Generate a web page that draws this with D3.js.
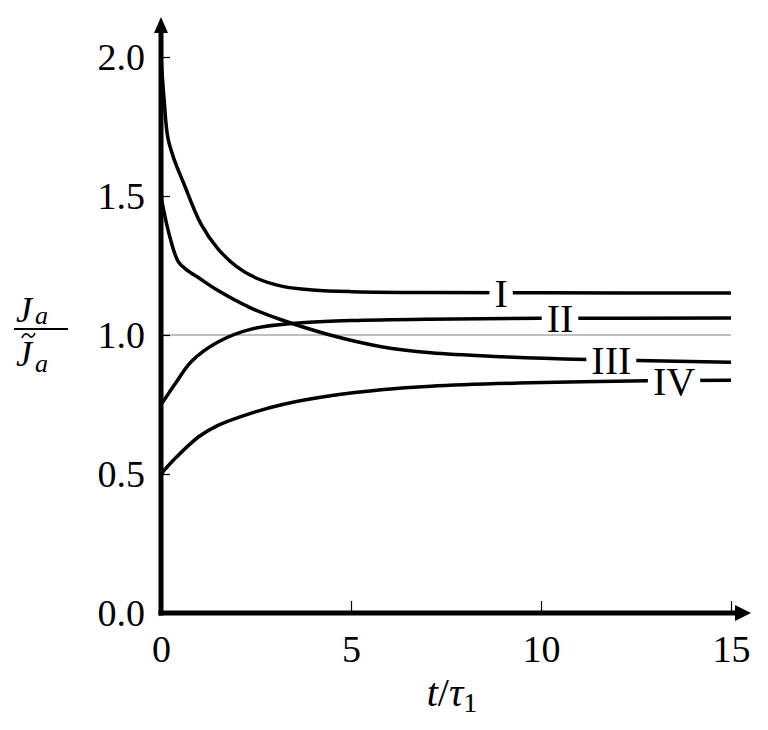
<!DOCTYPE html>
<html>
<head>
<meta charset="utf-8">
<script src="https://cdn.jsdelivr.net/npm/d3@7"></script>
<style>
  body { margin: 0; background: #fff; }
  svg text { font-family: "Liberation Serif", "DejaVu Serif", serif; fill: #000; }
</style>
</head>
<body>
<svg id="chart" width="768" height="730"></svg>
<script>
// curves: [t/tau1, Ja/J~a]
var curveI   = [[0,2.0],[0.08,1.85],[0.18,1.71],[0.35,1.63],[0.6,1.545],[1.05,1.40],[1.5,1.31],[2.0,1.245],[2.5,1.205],[3.2,1.175],[4.0,1.162],[5,1.156],[7,1.153],[10,1.152],[15,1.151]];
var curveII  = [[0,0.75],[0.2,0.79],[0.4,0.83],[0.8,0.905],[1.5,0.975],[2.4,1.022],[3.7,1.044],[5,1.052],[7,1.057],[10,1.06],[15,1.061]];
var curveIII = [[0,1.5],[0.2,1.37],[0.45,1.265],[0.65,1.237],[1.0,1.205],[1.5,1.16],[2.4,1.095],[3.2,1.053],[4.4,1.002],[5.8,0.958],[7.1,0.936],[9,0.922],[11.2,0.912],[15,0.902]];
var curveIV  = [[0,0.5],[0.4,0.56],[1.0,0.635],[1.5,0.675],[2.4,0.72],[3.2,0.75],[4.5,0.782],[5.8,0.803],[7.1,0.816],[9.7,0.828],[12.8,0.835],[15,0.837]];
var curveNames = ["I", "II", "III", "IV"];
// where the roman labels sit along each curve (t value)
var labelAt = [8.95, 10.5, 11.85, 13.5];

var xTicks = [0, 5, 10, 15];
var yTicks = [0, 0.5, 1.0, 1.5, 2.0];

var svg = d3.select("#chart");

var x = d3.scaleLinear().domain([0, 15]).range([161, 731]);
var y = d3.scaleLinear().domain([0, 2]).range([613, 57]);

// reference line at 1
svg.append("line")
    .attr("x1", x(0)).attr("x2", x(15))
    .attr("y1", y(1)).attr("y2", y(1))
    .attr("stroke", "#aaa").attr("stroke-width", 1.6);

var line = d3.line()
    .x(function(d){ return x(d[0]); })
    .y(function(d){ return y(d[1]); })
    .curve(d3.curveCatmullRom.alpha(0.5));

var allCurves = [curveI, curveII, curveIII, curveIV];
svg.selectAll(".curve")
    .data(allCurves)
  .enter().append("path")
    .attr("class", "curve")
    .attr("d", line)
    .attr("fill", "none")
    .attr("stroke", "#000")
    .attr("stroke-width", 3.5);

// value on a curve at t (linear between read points)
function valueAt(c, t){
    for (var i = 1; i < c.length; i++) {
        if (t <= c[i][0]) {
            var f = (t - c[i-1][0]) / (c[i][0] - c[i-1][0]);
            return c[i-1][1] + f * (c[i][1] - c[i-1][1]);
        }
    }
    return c[c.length-1][1];
}

// labels with a white box so the line breaks around them
curveNames.forEach(function(name, i){
    var g = svg.append("g");
    var cx = x(labelAt[i]), cy = y(valueAt(allCurves[i], labelAt[i]));
    var bg = g.append("rect").attr("fill", "#fff");
    var t = g.append("text")
        .attr("x", cx).attr("y", cy + 14)
        .attr("text-anchor", "middle")
        .attr("font-size", "40px")
        .text(name);
    var bb = t.node().getBBox();
    bg.attr("x", bb.x - 5).attr("y", cy - 6).attr("width", bb.width + 10).attr("height", 12);
});

// axes (ticks point inward)
var yAxis = svg.append("g")
    .attr("transform", "translate(" + x(0) + ",0)")
    .call(d3.axisLeft(y).tickValues(yTicks).tickSize(-9).tickPadding(16)
        .tickFormat(d3.format(".1f")));
var xAxis = svg.append("g")
    .attr("transform", "translate(0," + y(0) + ")")
    .call(d3.axisBottom(x).tickValues(xTicks).tickSize(-12).tickPadding(22)
        .tickFormat(d3.format("d")));

[yAxis, xAxis].forEach(function(a){
    a.select(".domain").remove();
    a.selectAll(".tick line").attr("stroke", "#000").attr("stroke-width", 1.2);
    a.selectAll(".tick text")
        .attr("font-family", "Liberation Serif, serif")
        .attr("font-size", "38px").attr("fill", "#000");
});
yAxis.selectAll(".tick text").attr("dy", "0.34em");
xAxis.selectAll(".tick text").attr("dy", "0.71em");
yAxis.selectAll(".tick").filter(function(d){ return d === 0; }).select("line").remove();
xAxis.selectAll(".tick").filter(function(d){ return d === 0; }).select("line").remove();

// thick axis lines with arrow heads
svg.append("line")
    .attr("x1", x(0)).attr("x2", x(0))
    .attr("y1", y(0) + 2.5).attr("y2", 30)
    .attr("stroke", "#000").attr("stroke-width", 5);
svg.append("path")
    .attr("d", "M" + (x(0) - 7) + ",33 L" + x(0) + ",17 L" + (x(0) + 7) + ",33 Z")
    .attr("fill", "#000");
svg.append("line")
    .attr("x1", x(0) - 2.5).attr("x2", 738)
    .attr("y1", y(0)).attr("y2", y(0))
    .attr("stroke", "#000").attr("stroke-width", 5);
svg.append("path")
    .attr("d", "M735," + (y(0) - 8) + " L751," + y(0) + " L735," + (y(0) + 8) + " Z")
    .attr("fill", "#000");

// y label: fraction J_a / J~_a
var yl = svg.append("g");
yl.append("text").attr("x", 16).attr("y", 322)
    .attr("font-size", "36px").attr("font-style", "italic").text("J")
  .append("tspan").attr("font-size", "26px").attr("dx", 3).attr("dy", 2).text("a");
yl.append("line").attr("x1", 14).attr("x2", 68).attr("y1", 329).attr("y2", 329)
    .attr("stroke", "#000").attr("stroke-width", 2);
yl.append("text").attr("x", 16).attr("y", 366)
    .attr("font-size", "36px").attr("font-style", "italic").text("J")
  .append("tspan").attr("font-size", "26px").attr("dx", 3).attr("dy", 6).text("a");
// tilde over the lower J
yl.append("path")
    .attr("d", "M22,338 C24,333 27,333 29,335.5 C31,338 33,338 35,333")
    .attr("fill", "none").attr("stroke", "#000").attr("stroke-width", 1.6);

// x label: t/tau_1
var xl = svg.append("text").attr("x", 452).attr("y", 706)
    .attr("text-anchor", "middle").attr("font-size", "40px");
xl.append("tspan").attr("font-style", "italic").text("t");
xl.append("tspan").text("/");
xl.append("tspan").attr("font-style", "italic").text("τ");
xl.append("tspan").attr("font-size", "28px").attr("dy", 6).text("1");
</script>
</body>
</html>
